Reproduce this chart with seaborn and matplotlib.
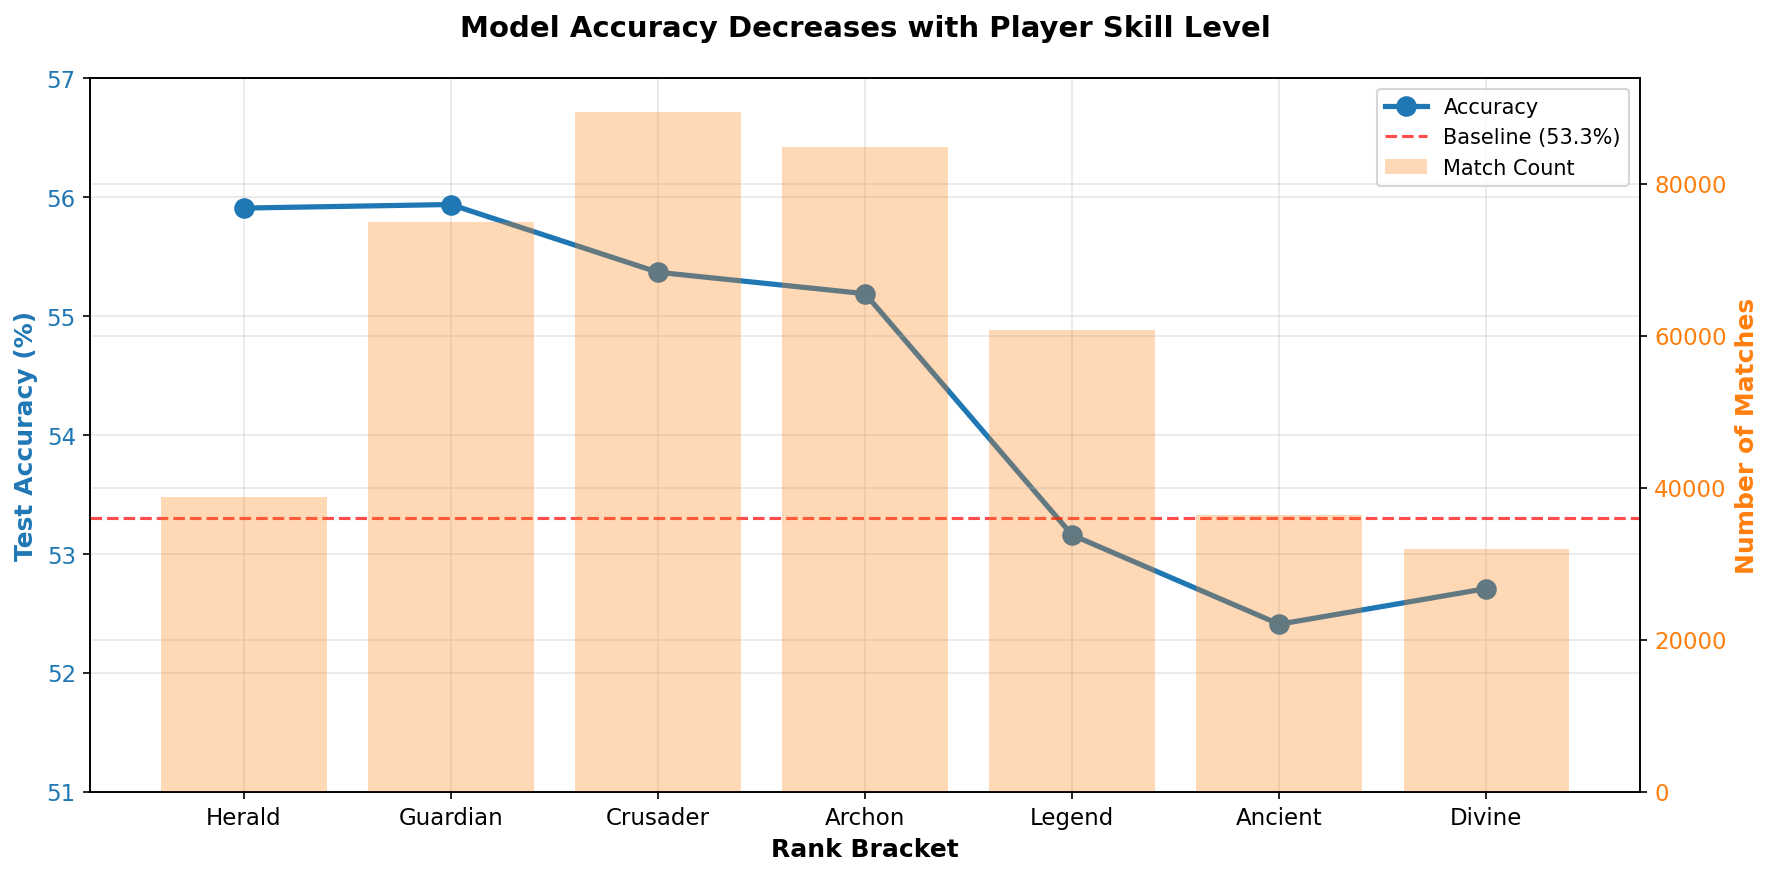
import pandas as pd
import seaborn as sns
import matplotlib
matplotlib.use("Agg")
import matplotlib.pyplot as plt

# Values
ranks = ['Herald', 'Guardian', 'Crusader', 'Archon', 'Legend', 'Ancient', 'Divine']
accuracy = [55.91, 55.94, 55.37, 55.19, 53.16, 52.41, 52.71]
match_count = [38800, 75000, 89400, 84800, 60800, 36400, 32000]
baseline = 53.3

df = pd.DataFrame({'rank': ranks, 'accuracy': accuracy, 'matches': match_count})

plt.rcParams['font.family'] = ['DejaVu Sans']

blue = '#1f77b4'
orange = '#ff7f0e'

fig, ax1 = plt.subplots(figsize=(11.83, 5.85), dpi=150)

# Accuracy line on the left axis
sns.pointplot(data=df, x='rank', y='accuracy', ax=ax1, color=blue,
              markersize=8, linewidth=2.5, errorbar=None)
base_line = ax1.axhline(baseline, color='red', linestyle='--', linewidth=1.5, alpha=0.7)
ax1.set_ylim(51, 57)
ax1.set_xlabel('Rank Bracket', fontsize=12, fontweight='bold')
ax1.set_ylabel('Test Accuracy (%)', fontsize=12, fontweight='bold', color=blue)
ax1.tick_params(axis='y', labelcolor=blue, labelsize=11)
ax1.tick_params(axis='x', labelsize=11)

# Match counts as bars on the right axis
ax2 = ax1.twinx()
sns.barplot(data=df, x='rank', y='matches', ax=ax2, color=orange, alpha=0.3,
            saturation=1, width=0.8)
ax2.set_ylim(0, max(match_count) * 1.05)
ax2.set_ylabel('Number of Matches', fontsize=12, fontweight='bold', color=orange)
ax2.tick_params(axis='y', labelcolor=orange, labelsize=11)
ax1.set_xlim(-0.74, len(ranks) - 0.26)

ax1.grid(True, alpha=0.3)
ax2.grid(True, alpha=0.3)

acc_line = ax1.lines[0]
bar_handle = ax2.patches[0]
ax2.legend(handles=[acc_line, base_line, bar_handle],
           labels=['Accuracy', 'Baseline (53.3%)', 'Match Count'],
           loc='upper right', fontsize=10)

ax1.set_title('Model Accuracy Decreases with Player Skill Level',
              fontsize=14, fontweight='bold', pad=20)

plt.subplots_adjust(left=0.051, right=0.924, top=0.910, bottom=0.097)
plt.savefig('out.png', dpi=150)
